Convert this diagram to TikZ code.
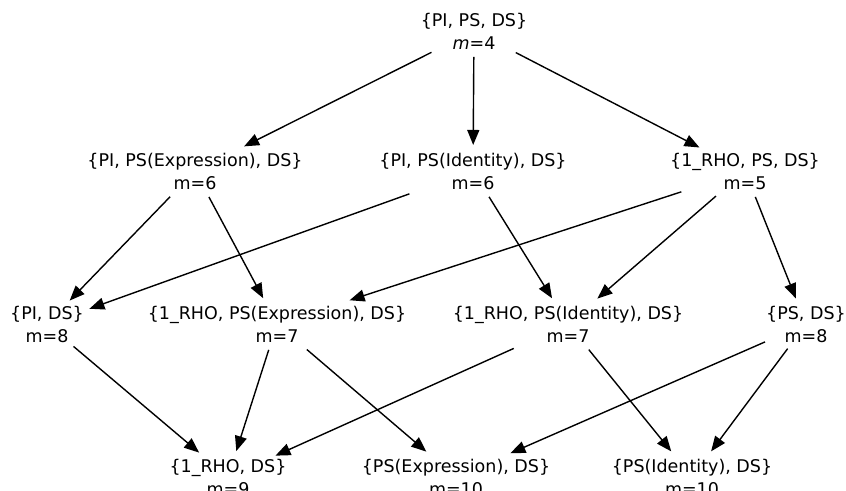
\documentclass[tikz,border=0pt]{standalone}
\usepackage{fontspec}
\setmainfont{DejaVu Sans}
\usetikzlibrary{
  arrows.meta,
  shapes.geometric
}
\tikzset{
  latnode/.style={
    ellipse, inner sep=0pt, align=center,
    font=\fontsize{17.5}{23}\selectfont
  },
  latedge/.style={-{Triangle[length=15pt,width=12pt]}, line width=1.4pt, black}
}
\begin{document}
\begin{tikzpicture}[x=1pt, y=-1pt]
  \clip (0,0) rectangle (846,490);
  \fill[white] (0,0) rectangle (846,490);
  % top
  \node[latnode] (pips) at (474,31) {\{PI, PS, DS\}\\\textit{m}=4};
  % second row
  \node[latnode] (piexp) at (195,171) {\{PI, PS(Expression), DS\}\\m=6};
  \node[latnode] (piid) at (473,171) {\{PI, PS(Identity), DS\}\\m=6};
  \node[latnode] (rhops) at (745,171) {\{1\_RHO, PS, DS\}\\m=5};
  % third row
  \node[latnode] (pids) at (47,324) {\{PI, DS\}\\m=8};
  \node[latnode] (rhoexp) at (277,324) {\{1\_RHO, PS(Expression), DS\}\\m=7};
  \node[latnode] (rhoid) at (568,324) {\{1\_RHO, PS(Identity), DS\}\\m=7};
  \node[latnode] (psds) at (806,324) {\{PS, DS\}\\m=8};
  % bottom row
  \node[latnode] (rhods) at (228,477) {\{1\_RHO, DS\}\\m=9};
  \node[latnode] (psexp) at (456,477) {\{PS(Expression), DS\}\\m=10};
  \node[latnode] (psid) at (692,477) {\{PS(Identity), DS\}\\m=10};

  \draw[latedge] (pips) -- (piexp);
  \draw[latedge] (pips) -- (piid);
  \draw[latedge] (pips) -- (rhops);
  \draw[latedge] (piexp) -- (pids);
  \draw[latedge] (piexp) -- (rhoexp);
  \draw[latedge] (piid) -- (pids);
  \draw[latedge] (piid) -- (rhoid);
  \draw[latedge] (rhops) -- (rhoexp);
  \draw[latedge] (rhops) -- (rhoid);
  \draw[latedge] (rhops) -- (psds);
  \draw[latedge] (pids) -- (rhods);
  \draw[latedge] (rhoexp) -- (rhods);
  \draw[latedge] (rhoexp) -- (psexp);
  \draw[latedge] (rhoid) -- (rhods);
  \draw[latedge] (rhoid) -- (psid);
  \draw[latedge] (psds) -- (psexp);
  \draw[latedge] (psds) -- (psid);
\end{tikzpicture}
\end{document}
